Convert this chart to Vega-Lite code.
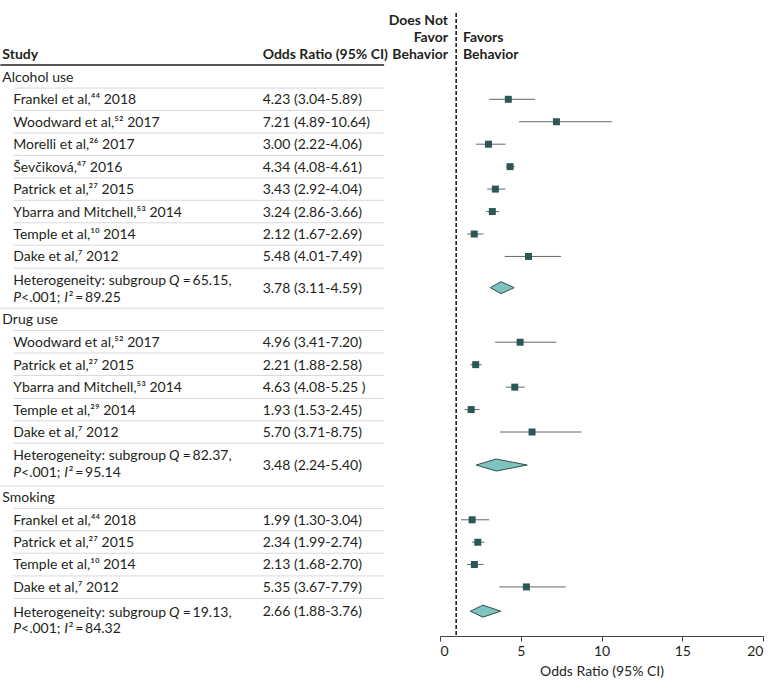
{
  "$schema": "https://vega.github.io/schema/vega-lite/v6.json",
  "width": 780,
  "height": 636,
  "autosize": {"type": "none"},
  "padding": {"left": 0, "top": 0, "right": 0, "bottom": 52},
  "background": "white",
  "config": {
    "view": {"stroke": null},
    "font": "Lato",
    "text": {"font": "Lato", "fontSize": 14, "color": "#231f20"},
    "axis": {
      "grid": false,
      "labelFont": "Lato",
      "labelFontSize": 14,
      "labelColor": "#231f20",
      "titleFont": "Lato",
      "titleFontSize": 14,
      "titleFontWeight": "normal",
      "titleColor": "#231f20",
      "domainColor": "#444444",
      "tickColor": "#444444",
      "tickSize": 5,
      "labelPadding": 3,
      "titlePadding": 6
    }
  },
  "datasets": {
    "rows": [
      {"kind": "group", "label": "Alcohol use", "row": 0},
      {"kind": "study", "label": "Frankel et al,⁴⁴ 2018", "row": 1, "top": 0.5, "est": 4.23, "lo": 3.04, "hi": 5.89, "orText": "4.23 (3.04-5.89)"},
      {"kind": "study", "label": "Woodward et al,⁵² 2017", "row": 2, "top": 1.5, "est": 7.21, "lo": 4.89, "hi": 10.64, "orText": "7.21 (4.89-10.64)"},
      {"kind": "study", "label": "Morelli et al,²⁶ 2017", "row": 3, "top": 2.5, "est": 3.00, "lo": 2.22, "hi": 4.06, "orText": "3.00 (2.22-4.06)"},
      {"kind": "study", "label": "Ševčiková,⁴⁷ 2016", "row": 4, "top": 3.5, "est": 4.34, "lo": 4.08, "hi": 4.61, "orText": "4.34 (4.08-4.61)"},
      {"kind": "study", "label": "Patrick et al,²⁷ 2015", "row": 5, "top": 4.5, "est": 3.43, "lo": 2.92, "hi": 4.04, "orText": "3.43 (2.92-4.04)"},
      {"kind": "study", "label": "Ybarra and Mitchell,⁵³ 2014", "row": 6, "top": 5.5, "est": 3.24, "lo": 2.86, "hi": 3.66, "orText": "3.24 (2.86-3.66)"},
      {"kind": "study", "label": "Temple et al,¹⁰ 2014", "row": 7, "top": 6.5, "est": 2.12, "lo": 1.67, "hi": 2.69, "orText": "2.12 (1.67-2.69)"},
      {"kind": "study", "label": "Dake et al,⁷ 2012", "row": 8, "top": 7.5, "est": 5.48, "lo": 4.01, "hi": 7.49, "orText": "5.48 (4.01-7.49)"},
      {"kind": "het", "label": "Heterogeneity: subgroup", "qText": "=\u200965.15,", "pText": "<.001;", "i2Text": "²\u2009=\u200989.25", "row": 9.39, "labelRow": 9.05, "top": 8.52, "est": 3.78, "lo": 3.11, "hi": 4.59, "orText": "3.78 (3.11-4.59)"},
      {"kind": "group", "label": "Drug use", "row": 10.8, "top": 10.31},
      {"kind": "study", "label": "Woodward et al,⁵² 2017", "row": 11.82, "top": 11.3, "est": 4.96, "lo": 3.41, "hi": 7.20, "orText": "4.96 (3.41-7.20)"},
      {"kind": "study", "label": "Patrick et al,²⁷ 2015", "row": 12.82, "top": 12.3, "est": 2.21, "lo": 1.88, "hi": 2.58, "orText": "2.21 (1.88-2.58)"},
      {"kind": "study", "label": "Ybarra and Mitchell,⁵³ 2014", "row": 13.82, "top": 13.3, "est": 4.63, "lo": 4.08, "hi": 5.25, "orText": "4.63 (4.08-5.25 )"},
      {"kind": "study", "label": "Temple et al,²⁹ 2014", "row": 14.82, "top": 14.32, "est": 1.93, "lo": 1.53, "hi": 2.45, "orText": "1.93 (1.53-2.45)"},
      {"kind": "study", "label": "Dake et al,⁷ 2012", "row": 15.82, "top": 15.32, "est": 5.70, "lo": 3.71, "hi": 8.75, "orText": "5.70 (3.71-8.75)"},
      {"kind": "het", "label": "Heterogeneity: subgroup", "qText": "=\u200982.37,", "pText": "<.001;", "i2Text": "²\u2009=\u200995.14", "row": 17.29, "labelRow": 16.85, "top": 16.32, "est": 3.48, "lo": 2.24, "hi": 5.40, "orText": "3.48 (2.24-5.40)"},
      {"kind": "group", "label": "Smoking", "row": 18.71, "top": 18.23},
      {"kind": "study", "label": "Frankel et al,⁴⁴ 2018", "row": 19.73, "top": 19.22, "est": 1.99, "lo": 1.30, "hi": 3.04, "orText": "1.99 (1.30-3.04)"},
      {"kind": "study", "label": "Patrick et al,²⁷ 2015", "row": 20.73, "top": 20.22, "est": 2.34, "lo": 1.99, "hi": 2.74, "orText": "2.34 (1.99-2.74)"},
      {"kind": "study", "label": "Temple et al,¹⁰ 2014", "row": 21.72, "top": 21.22, "est": 2.13, "lo": 1.68, "hi": 2.70, "orText": "2.13 (1.68-2.70)"},
      {"kind": "study", "label": "Dake et al,⁷ 2012", "row": 22.72, "top": 22.23, "est": 5.35, "lo": 3.67, "hi": 7.79, "orText": "5.35 (3.67-7.79)"},
      {"kind": "het", "label": "Heterogeneity: subgroup", "qText": "=\u200919.13,", "pText": "<.001;", "i2Text": "²\u2009=\u200984.32", "row": 23.8, "labelRow": 23.82, "top": 23.23, "est": 2.66, "lo": 1.88, "hi": 3.76, "orText": "2.66 (1.88-3.76)"}
    ]
  },
  "layer": [
    {
      "data": {"name": "rows"},
      "transform": [{"filter": "datum.kind !== 'group'"}],
      "mark": {"type": "rule", "color": "#d9d9d9", "strokeWidth": 1},
      "encoding": {
        "x": {"datum": -26.42, "type": "quantitative", "title": "Odds Ratio (95% CI)", "scale": {"domain": [0, 20], "range": [440, 763], "nice": false, "zero": false}, "axis": {"values": [0, 5, 10, 15, 20], "title": "Odds Ratio (95% CI)"}},
        "x2": {"datum": -3.46},
        "y": {"field": "top", "type": "quantitative", "scale": {"domain": [-3.423, 24.906], "reverse": true, "nice": false, "zero": false}, "axis": null}
      }
    },
    {
      "data": {"name": "rows"},
      "transform": [{"filter": "datum.kind === 'group' && isValid(datum.top)"}],
      "mark": {"type": "rule", "color": "#d9d9d9", "strokeWidth": 1},
      "encoding": {
        "x": {"datum": -27.22, "type": "quantitative", "title": "Odds Ratio (95% CI)"},
        "x2": {"datum": -3.46},
        "y": {"field": "top", "type": "quantitative", "axis": null}
      }
    },
    {
      "data": {"values": [{}]},
      "mark": {"type": "rule", "color": "#231f20", "strokeWidth": 1.5},
      "encoding": {
        "x": {"datum": -27.22, "type": "quantitative", "title": "Odds Ratio (95% CI)"},
        "x2": {"datum": -3.46},
        "y": {"datum": -0.53, "type": "quantitative", "axis": null}
      }
    },
    {
      "data": {"values": [{}]},
      "mark": {"type": "rule", "color": "#111111", "strokeWidth": 1.5, "strokeDash": [4, 2]},
      "encoding": {
        "x": {"datum": 1, "type": "quantitative", "title": "Odds Ratio (95% CI)"},
        "y": {"datum": -2.84, "type": "quantitative", "axis": null},
        "y2": {"datum": 24.906}
      }
    },
    {
      "data": {"name": "rows"},
      "transform": [{"filter": "datum.kind === 'study'"}],
      "mark": {"type": "rule", "color": "#666666", "strokeWidth": 1},
      "encoding": {
        "x": {"field": "lo", "type": "quantitative", "title": "Odds Ratio (95% CI)"},
        "x2": {"field": "hi"},
        "y": {"field": "row", "type": "quantitative", "axis": null}
      }
    },
    {
      "data": {"name": "rows"},
      "transform": [{"filter": "datum.kind === 'study'"}],
      "mark": {"type": "point", "shape": "square", "filled": true, "size": 49, "color": "#2b5857", "opacity": 1},
      "encoding": {
        "x": {"field": "est", "type": "quantitative", "title": "Odds Ratio (95% CI)"},
        "y": {"field": "row", "type": "quantitative", "axis": null}
      }
    },
    {
      "data": {"name": "rows"},
      "transform": [
        {"filter": "datum.kind === 'het'"},
        {"fold": ["lo", "est", "hi"], "as": ["pt", "v"]}
      ],
      "mark": {
        "type": "area",
        "fill": "#7fc3c1",
        "fillOpacity": 1,
        "stroke": "#2f4f4f",
        "strokeWidth": 1,
        "yOffset": {"expr": "datum.pt === 'est' ? -6 : 0"},
        "y2Offset": {"expr": "datum.pt === 'est' ? 6 : 0"}
      },
      "encoding": {
        "x": {"field": "v", "type": "quantitative", "title": "Odds Ratio (95% CI)"},
        "y": {"field": "row", "type": "quantitative", "axis": null},
        "y2": {"field": "row"},
        "detail": {"field": "orText", "type": "nominal"}
      }
    },
    {
      "data": {"name": "rows"},
      "transform": [{"filter": "datum.kind === 'group'"}],
      "mark": {"type": "text", "align": "left", "baseline": "middle", "dy": 1},
      "encoding": {
        "x": {"datum": -27.10, "type": "quantitative", "title": "Odds Ratio (95% CI)"},
        "y": {"field": "row", "type": "quantitative", "axis": null},
        "text": {"field": "label", "type": "nominal"}
      }
    },
    {
      "data": {"name": "rows"},
      "transform": [{"filter": "datum.kind === 'study'"}],
      "mark": {"type": "text", "align": "left", "baseline": "middle", "dy": 1},
      "encoding": {
        "x": {"datum": -26.42, "type": "quantitative", "title": "Odds Ratio (95% CI)"},
        "y": {"field": "row", "type": "quantitative", "axis": null},
        "text": {"field": "label", "type": "nominal"}
      }
    },
    {
      "data": {"name": "rows"},
      "transform": [{"filter": "datum.kind === 'het'"}],
      "mark": {"type": "text", "align": "left", "baseline": "middle", "dy": 1},
      "encoding": {
        "x": {"datum": -26.42, "type": "quantitative", "title": "Odds Ratio (95% CI)"},
        "y": {"field": "labelRow", "type": "quantitative", "axis": null},
        "text": {"field": "label", "type": "nominal"}
      }
    },
    {
      "data": {"name": "rows"},
      "transform": [{"filter": "datum.kind === 'het'"}],
      "mark": {"type": "text", "align": "left", "baseline": "middle", "dy": 1, "fontStyle": "italic", "text": "Q"},
      "encoding": {
        "x": {"datum": -16.78, "type": "quantitative", "title": "Odds Ratio (95% CI)"},
        "y": {"field": "labelRow", "type": "quantitative", "axis": null}
      }
    },
    {
      "data": {"name": "rows"},
      "transform": [{"filter": "datum.kind === 'het'"}],
      "mark": {"type": "text", "align": "left", "baseline": "middle", "dy": 1},
      "encoding": {
        "x": {"datum": -15.93, "type": "quantitative", "title": "Odds Ratio (95% CI)"},
        "y": {"field": "labelRow", "type": "quantitative", "axis": null},
        "text": {"field": "qText", "type": "nominal"}
      }
    },
    {
      "data": {"name": "rows"},
      "transform": [{"filter": "datum.kind === 'het'"}],
      "mark": {"type": "text", "align": "left", "baseline": "middle", "dy": 17.5, "fontStyle": "italic", "text": "P"},
      "encoding": {
        "x": {"datum": -26.42, "type": "quantitative", "title": "Odds Ratio (95% CI)"},
        "y": {"field": "labelRow", "type": "quantitative", "axis": null}
      }
    },
    {
      "data": {"name": "rows"},
      "transform": [{"filter": "datum.kind === 'het'"}],
      "mark": {"type": "text", "align": "left", "baseline": "middle", "dy": 17.5},
      "encoding": {
        "x": {"datum": -25.94, "type": "quantitative", "title": "Odds Ratio (95% CI)"},
        "y": {"field": "labelRow", "type": "quantitative", "axis": null},
        "text": {"field": "pText", "type": "nominal"}
      }
    },
    {
      "data": {"name": "rows"},
      "transform": [{"filter": "datum.kind === 'het'"}],
      "mark": {"type": "text", "align": "left", "baseline": "middle", "dy": 17.5, "fontStyle": "italic", "text": "I"},
      "encoding": {
        "x": {"datum": -23.27, "type": "quantitative", "title": "Odds Ratio (95% CI)"},
        "y": {"field": "labelRow", "type": "quantitative", "axis": null}
      }
    },
    {
      "data": {"name": "rows"},
      "transform": [{"filter": "datum.kind === 'het'"}],
      "mark": {"type": "text", "align": "left", "baseline": "middle", "dy": 17.5},
      "encoding": {
        "x": {"datum": -22.99, "type": "quantitative", "title": "Odds Ratio (95% CI)"},
        "y": {"field": "labelRow", "type": "quantitative", "axis": null},
        "text": {"field": "i2Text", "type": "nominal"}
      }
    },
    {
      "data": {"name": "rows"},
      "transform": [{"filter": "datum.kind !== 'group'"}],
      "mark": {"type": "text", "align": "left", "baseline": "middle", "dy": 1},
      "encoding": {
        "x": {"datum": -10.98, "type": "quantitative", "title": "Odds Ratio (95% CI)"},
        "y": {"field": "row", "type": "quantitative", "axis": null},
        "text": {"field": "orText", "type": "nominal"}
      }
    },
    {
      "data": {"values": [{}]},
      "mark": {"type": "text", "align": "left", "baseline": "middle", "fontWeight": "bold", "text": "Study"},
      "encoding": {
        "x": {"datum": -27.10, "type": "quantitative", "title": "Odds Ratio (95% CI)"},
        "y": {"datum": -0.96, "type": "quantitative", "axis": null}
      }
    },
    {
      "data": {"values": [{}]},
      "mark": {"type": "text", "align": "left", "baseline": "middle", "fontWeight": "bold", "text": "Odds Ratio (95% CI)"},
      "encoding": {
        "x": {"datum": -10.98, "type": "quantitative", "title": "Odds Ratio (95% CI)"},
        "y": {"datum": -0.96, "type": "quantitative", "axis": null}
      }
    },
    {
      "data": {"values": [{}]},
      "mark": {"type": "text", "align": "right", "baseline": "middle", "fontWeight": "bold", "text": "Does Not"},
      "encoding": {
        "x": {"datum": 0.495, "type": "quantitative", "title": "Odds Ratio (95% CI)"},
        "y": {"datum": -2.48, "type": "quantitative", "axis": null}
      }
    },
    {
      "data": {"values": [{}]},
      "mark": {"type": "text", "align": "right", "baseline": "middle", "fontWeight": "bold", "text": "Favor"},
      "encoding": {
        "x": {"datum": 0.495, "type": "quantitative", "title": "Odds Ratio (95% CI)"},
        "y": {"datum": -1.71, "type": "quantitative", "axis": null}
      }
    },
    {
      "data": {"values": [{}]},
      "mark": {"type": "text", "align": "right", "baseline": "middle", "fontWeight": "bold", "text": "Behavior"},
      "encoding": {
        "x": {"datum": 0.495, "type": "quantitative", "title": "Odds Ratio (95% CI)"},
        "y": {"datum": -0.96, "type": "quantitative", "axis": null}
      }
    },
    {
      "data": {"values": [{}]},
      "mark": {"type": "text", "align": "left", "baseline": "middle", "fontWeight": "bold", "text": "Favors"},
      "encoding": {
        "x": {"datum": 1.42, "type": "quantitative", "title": "Odds Ratio (95% CI)"},
        "y": {"datum": -1.71, "type": "quantitative", "axis": null}
      }
    },
    {
      "data": {"values": [{}]},
      "mark": {"type": "text", "align": "left", "baseline": "middle", "fontWeight": "bold", "text": "Behavior"},
      "encoding": {
        "x": {"datum": 1.42, "type": "quantitative", "title": "Odds Ratio (95% CI)"},
        "y": {"datum": -0.96, "type": "quantitative", "axis": null}
      }
    }
  ]
}
